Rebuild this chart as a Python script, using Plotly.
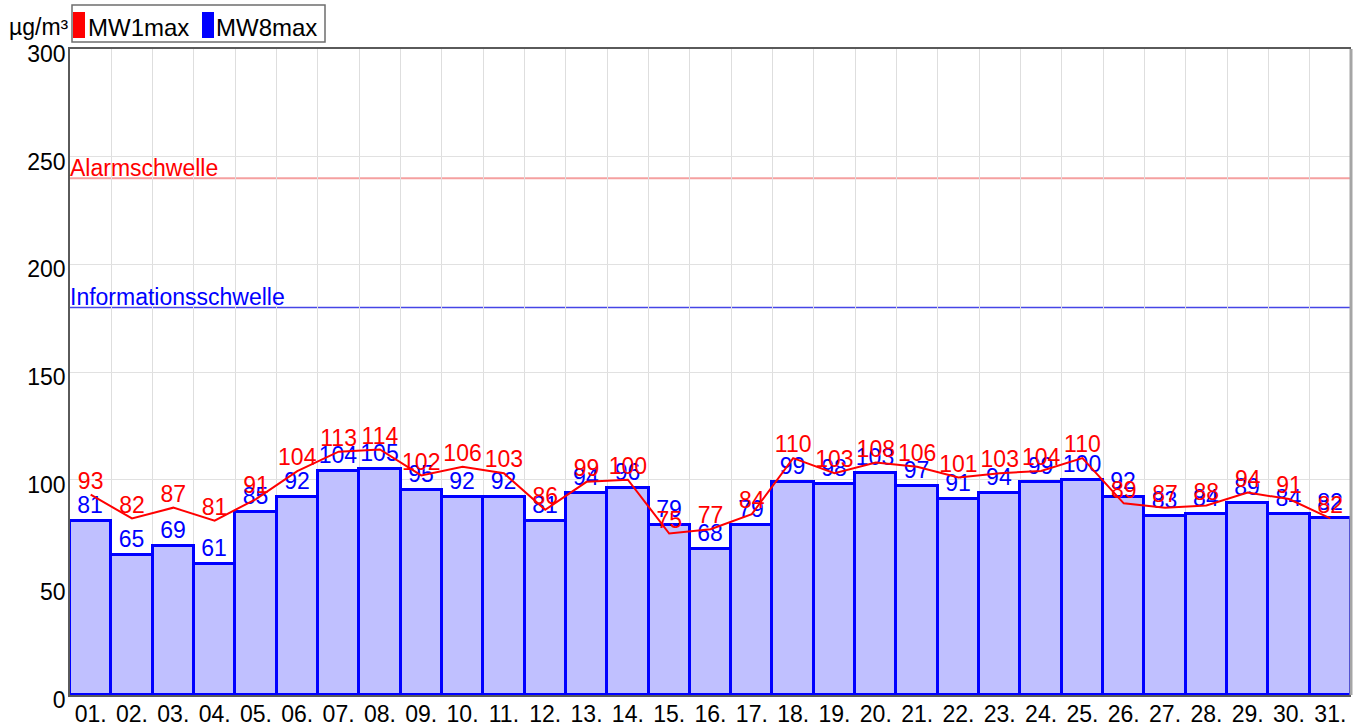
import plotly.graph_objects as go

days = [f"{d:02d}." for d in range(1, 32)]
mw1max = [93, 82, 87, 81, 91, 104, 113, 114, 102, 106, 103, 86, 99, 100, 75, 77, 84,
          110, 103, 108, 106, 101, 103, 104, 110, 89, 87, 88, 94, 91, 82]
mw8max = [81, 65, 69, 61, 85, 92, 104, 105, 95, 92, 92, 81, 94, 96, 79, 68, 79,
          99, 98, 103, 97, 91, 94, 99, 100, 92, 83, 84, 89, 84, 82]
alarm_threshold = 240
info_threshold = 180
y_ticks = [0, 50, 100, 150, 200, 250, 300]
legend_names = ["MW1max", "MW8max"]
legend_colors = ["rgb(255,0,0)", "rgb(0,0,255)"]

FONT = "Liberation Sans, Arial, sans-serif"
FS = 23
xpos = list(range(1, len(days) + 1))

# plot area in pixels: x 70..1351, y 49..695
L, R, T, B = 70, 10, 49, 31
W, H = 1361, 726
PW, PH = W - L - R, H - T - B


def px(xp):
    return (xp - L) / PW


def py(yp):
    return (H - B - yp) / PH


fig = go.Figure()
fig.add_trace(go.Bar(
    x=xpos, y=mw8max, width=1.0,
    marker=dict(color="rgb(192,192,255)", line=dict(color="rgb(0,0,255)", width=3)),
    text=[str(v) for v in mw8max], textposition="outside", cliponaxis=False,
    textfont=dict(color="rgb(0,0,255)", size=FS, family=FONT),
    showlegend=False, hoverinfo="skip",
))
fig.add_trace(go.Scatter(
    x=xpos, y=mw1max, mode="lines+text",
    line=dict(color="rgb(255,0,0)", width=2),
    text=[str(v) for v in mw1max], textposition="top center",
    textfont=dict(color="rgb(255,0,0)", size=FS, family=FONT),
    showlegend=False, hoverinfo="skip", cliponaxis=False,
))

fig.add_hline(y=alarm_threshold, line=dict(color="rgb(245,160,160)", width=2), layer="below")
fig.add_hline(y=info_threshold, line=dict(color="rgb(70,70,230)", width=1.5), layer="below")
fig.add_annotation(x=0, xref="paper", y=alarm_threshold, yref="y", text="Alarmschwelle",
                   showarrow=False, xanchor="left", yanchor="bottom", yshift=-5, xshift=-2,
                   font=dict(color="rgb(255,0,0)", size=FS, family=FONT))
fig.add_annotation(x=0, xref="paper", y=info_threshold, yref="y", text="Informationsschwelle",
                   showarrow=False, xanchor="left", yanchor="bottom", yshift=-5, xshift=-2,
                   font=dict(color="rgb(0,0,255)", size=FS, family=FONT))
fig.add_annotation(x=px(71), xref="paper", y=py(27), yref="paper", text="µg/m³",
                   showarrow=False, xanchor="right", yanchor="middle",
                   font=dict(color="black", size=FS, family=FONT))

# manual legend
fig.add_shape(type="rect", xref="paper", yref="paper", x0=px(72), x1=px(325), y0=py(42), y1=py(5),
              line=dict(color="rgb(110,110,110)", width=1.5), fillcolor="white")
sym_x = [73, 202]
txt_x = [86, 214]
for name, col, sx, tx in zip(legend_names, legend_colors, sym_x, txt_x):
    fig.add_shape(type="rect", xref="paper", yref="paper", x0=px(sx), x1=px(sx + 12),
                  y0=py(38), y1=py(12), line=dict(width=0), fillcolor=col)
    fig.add_annotation(x=px(tx), xref="paper", y=py(27), yref="paper", text=name,
                       showarrow=False, xanchor="left", yanchor="middle",
                       font=dict(color="black", size=24, family=FONT))

# right border
fig.add_shape(type="line", xref="paper", yref="paper", x0=1, x1=1, y0=0, y1=1,
              line=dict(color="rgb(165,165,165)", width=3))

fig.update_layout(
    width=W, height=H,
    margin=dict(l=L, r=R, t=T, b=B, autoexpand=False),
    paper_bgcolor="white", plot_bgcolor="white",
    font=dict(family=FONT, size=FS, color="black"),
    bargap=0,
    showlegend=False,
    xaxis=dict(range=[0.5, len(days) + 0.5], tickmode="array", tickvals=xpos, ticktext=days,
               showgrid=False, zeroline=False, showline=True, linecolor="rgb(90,90,90)",
               mirror=True, linewidth=1.5, ticks="", ticklen=0, ticklabelstandoff=-2,
               tickfont=dict(size=FS), automargin=False,
               minor=dict(tickmode="array", tickvals=[i + 0.5 for i in range(len(days))],
                          showgrid=True, gridcolor="rgb(222,222,222)", gridwidth=1, ticks="")),
    yaxis=dict(range=[0, 300], tickmode="array", tickvals=y_ticks,
               showgrid=True, gridcolor="rgb(225,225,225)", gridwidth=1, zeroline=False,
               showline=True, linecolor="rgb(90,90,90)", linewidth=1.5, ticks="", ticklen=0,
               ticklabelstandoff=-2, ticklabelshift=5, tickfont=dict(size=FS),
               automargin=False),
)

fig.write_html("out.html", config={"displayModeBar": False},
               post_script="document.body.style.margin='0';document.body.style.overflow='hidden';")
